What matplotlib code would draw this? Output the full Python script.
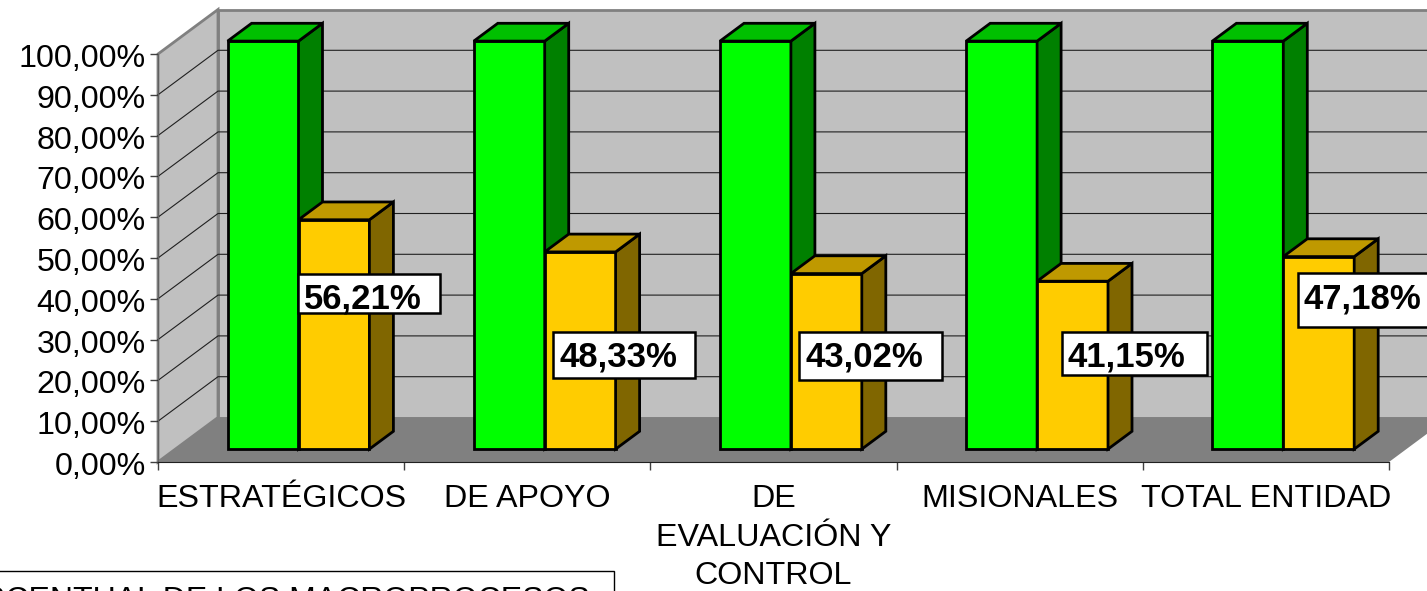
import matplotlib
matplotlib.use("Agg")
import matplotlib.pyplot as plt
from matplotlib.patches import Rectangle
from matplotlib.transforms import ScaledTranslation

plt.rcParams["font.family"] = ["Liberation Sans", "DejaVu Sans"]

# Data
categories = ["ESTRATÉGICOS", "DE APOYO", "DE\nEVALUACIÓN Y\nCONTROL", "MISIONALES", "TOTAL ENTIDAD"]
target = [100, 100, 100, 100, 100]
achieved = [56.21, 48.33, 43.02, 41.15, 47.18]
achieved_labels = ["56,21%", "48,33%", "43,02%", "41,15%", "47,18%"]
y_values = [0, 10, 20, 30, 40, 50, 60, 70, 80, 90, 100]
y_labels = ["0,00%", "10,00%", "20,00%", "30,00%", "40,00%", "50,00%", "60,00%", "70,00%", "80,00%", "90,00%", "100,00%"]

# Pixel placement of the label boxes: left, top, right, bottom, text x, text baseline
label_boxes = [
    (298, 274, 440, 313, 304, 309),
    (553, 332, 695, 378, 559, 367),
    (799, 332, 942, 380, 806, 367),
    (1062, 332, 1207, 375, 1068, 367),
    (1298, 273, 1440, 327, 1304, 308),
]

W, H = 1427, 591
LEFT, RIGHT, BASE, TOP = 158, 1389, 462, 54

# 3D look: full floor depth in data units
DEPTH_X = 60 / ((RIGHT - LEFT) / 5)
DEPTH_Y = 44.5 / ((BASE - TOP) / 100)
BAR_D0 = 0.29      # where the bars stand on the floor
BAR_D = 0.40       # depth of a bar
BAR_W = 0.288


def proj(x, y, d):
    return x + d * DEPTH_X, y + d * DEPTH_Y


def face(ax, pts, color, z, edge="none", lw=0):
    xs = [p[0] for p in pts]
    ys = [p[1] for p in pts]
    ax.fill(xs, ys, facecolor=color, edgecolor=edge, linewidth=lw, zorder=z, clip_on=False)


fig = plt.figure(figsize=(W / 100, H / 100), dpi=100, facecolor="white")
ax = fig.add_axes([LEFT / W, 1 - BASE / H, (RIGHT - LEFT) / W, (BASE - TOP) / H])
ax.set_xlim(0, 5)
ax.set_ylim(0, 100)
ax.patch.set_visible(False)
for s in ["top", "right"]:
    ax.spines[s].set_visible(False)
ax.spines["left"].set_color("#606060")
ax.spines["bottom"].set_color("#202020")
ax.spines["left"].set_zorder(4)
ax.spines["bottom"].set_zorder(4)

# walls and floor
face(ax, [proj(0, 0, 1), proj(5, 0, 1), proj(5, 100, 1), proj(0, 100, 1)], "#C0C0C0", 1, "#808080", 2)
face(ax, [proj(0, 0, 0), proj(0, 0, 1), proj(0, 100, 1), proj(0, 100, 0)], "#C0C0C0", 1, "#808080", 2)
face(ax, [proj(0, 0, 0), proj(5, 0, 0), proj(5, 0, 1), proj(0, 0, 1)], "#808080", 2)

# gridlines on the back and side wall
for v in y_values[1:-1]:
    x0, y0 = proj(0, v, 0)
    x1, y1 = proj(0, v, 1)
    x2, y2 = proj(5, v, 1)
    ax.plot([x0, x1, x2], [y0, y1, y2], color="#202020", lw=0.8, zorder=3, clip_on=False)

# bars
for i in range(len(categories)):
    sx, sy = proj(i + 0.5, 0, BAR_D0)
    for x, v, front, side, top_c in [
        (sx - BAR_W, target[i], "#00FF00", "#008000", "#00C000"),
        (sx, achieved[i], "#FFCC00", "#806600", "#BF9900"),
    ]:
        z = 6 if x == sx else 5
        ax.bar(x, v, BAR_W, bottom=sy, align="edge", color=front, edgecolor="black",
               linewidth=2, zorder=z, clip_on=False)
        r = x + BAR_W
        dx, dy = BAR_D * DEPTH_X, BAR_D * DEPTH_Y
        face(ax, [(r, sy), (r + dx, sy + dy), (r + dx, sy + v + dy), (r, sy + v)], side, z, "black", 2)
        face(ax, [(x, sy + v), (x + dx, sy + v + dy), (r + dx, sy + v + dy), (r, sy + v)], top_c, z, "black", 2)

ax.set_yticks(y_values)
ax.set_yticklabels(y_labels, fontsize=23.2)
ax.set_xticks(range(6))
ax.set_xticklabels([])
ax.tick_params(axis="y", length=5.8, width=1, color="#404040", pad=3.2)
ax.tick_params(axis="x", length=5.8, width=1, color="#404040")
ax.set_xticks([i + 0.5 for i in range(5)], minor=True)
ax.set_xticklabels(categories, minor=True, fontsize=23.2, linespacing=1.36, va="top")
ax.tick_params(axis="x", which="minor", length=0, pad=16)

# tick labels sit a little lower than the tick in the original
for lab in ax.get_yticklabels():
    lab.set_transform(lab.get_transform() + ScaledTranslation(0, -1.5 / 100, fig.dpi_scale_trans))

# overlay in pixels for the label boxes and the cut-off note
ov = fig.add_axes([0, 0, 1, 1])
ov.set_xlim(0, W)
ov.set_ylim(H, 0)
ov.axis("off")
ov.patch.set_visible(False)
for (l, t, r, b, tx, ty), lab in zip(label_boxes, achieved_labels):
    ov.add_patch(Rectangle((l, t), r - l, b - t, facecolor="white", edgecolor="black", linewidth=1.8, zorder=7))
    ov.text(tx, ty, lab, fontsize=25, fontweight="bold", ha="left", va="baseline", zorder=8)

ov.add_patch(Rectangle((-5, 571), 619, 60, facecolor="white", edgecolor="black", linewidth=1, zorder=7))
ov.text(590, 609, "PORCENTUAL DE LOS MACROPROCESOS", fontsize=23, ha="right", va="baseline", zorder=8)

fig.savefig("out.png", dpi=100)
